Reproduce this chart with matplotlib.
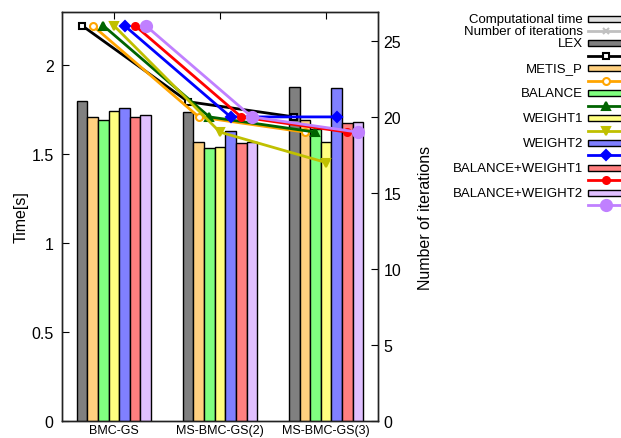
import numpy as np
import matplotlib
matplotlib.use("Agg")
import matplotlib.pyplot as plt
from matplotlib.patches import Rectangle
from matplotlib.lines import Line2D

plt.rcParams['font.family'] = ['Liberation Sans', 'DejaVu Sans']

# solvers on the x axis
solvers = ['BMC-GS', 'MS-BMC-GS(2)', 'MS-BMC-GS(3)']
methods = ['LEX', 'METIS_P', 'BALANCE', 'WEIGHT1', 'WEIGHT2',
           'BALANCE+WEIGHT1', 'BALANCE+WEIGHT2']

# computational time [s], one list per method (BMC-GS, MS(2), MS(3))
time_lex = [1.80, 1.74, 1.88]
time_metis = [1.71, 1.57, 1.69]
time_balance = [1.69, 1.535, 1.64]
time_weight1 = [1.745, 1.54, 1.57]
time_weight2 = [1.76, 1.63, 1.87]
time_bw1 = [1.71, 1.565, 1.677]
time_bw2 = [1.72, 1.57, 1.68]

# number of iterations
iter_lex = [26, 21, 20]
iter_metis = [26, 20, 19]
iter_balance = [26, 20, 19]
iter_weight1 = [26, 19, 17]
iter_weight2 = [26, 20, 20]
iter_bw1 = [26, 20, 19]
iter_bw2 = [26, 20, 19]

times = [time_lex, time_metis, time_balance, time_weight1, time_weight2, time_bw1, time_bw2]
iters = [iter_lex, iter_metis, iter_balance, iter_weight1, iter_weight2, iter_bw1, iter_bw2]

bar_colors = ['#808080', '#ffd080', '#80ff80', '#ffff80', '#8080ff', '#ff8080', '#e0c0ff']
line_colors = ['#000000', '#ffa500', '#006400', '#c0c000', '#0000ff', '#ff0000', '#c080ff']
markers = ['s', 'o', '^', 'v', 'D', 'o', 'o']
msizes = [4, 5, 6, 6, 5, 5, 8]
mfaces = ['white', 'white', None, None, None, None, None]

fig = plt.figure(figsize=(6.21, 4.39), dpi=100)
ax = fig.add_axes([0.0998, 0.0387, 0.5089, 0.9317])
ax2 = ax.twinx()

x = np.arange(len(solvers))
w = 0.1
for i in range(len(methods)):
    ax.bar(x + (i - 3) * w, times[i], width=w, color=bar_colors[i],
           edgecolor='black', linewidth=1, zorder=3)
    mf = mfaces[i] if mfaces[i] else line_colors[i]
    ax2.plot(x + (i - 3) * w, iters[i], color=line_colors[i], lw=2,
             marker=markers[i], ms=msizes[i], mfc=mf, mec=line_colors[i],
             mew=1.5, zorder=4)

ax.set_xlim(-0.49, 2.49)
ax.set_ylim(0, 2.3)
ax2.set_ylim(0, 26.9)
ax.set_xticks(x)
ax.set_xticklabels(solvers, fontsize=9)
ax.set_yticks([0, 0.5, 1, 1.5, 2])
ax.set_yticklabels(['0', '0.5', '1', '1.5', '2'], fontsize=11.5)
ax2.set_yticks([0, 5, 10, 15, 20, 25])
ax2.tick_params(axis='y', labelsize=11.5, direction='in', length=5, pad=4)
ax.tick_params(axis='y', direction='in', length=5, pad=6)
ax.tick_params(axis='x', direction='in', length=5, top=True, pad=2)
ax.set_ylabel('Time[s]', fontsize=11.5, labelpad=2)
ax2.set_ylabel('Number of iterations', fontsize=11.5, labelpad=12)
for a in (ax, ax2):
    for s in a.spines.values():
        s.set_linewidth(1)
        s.set_color('#222222')

# key, drawn in pixel coordinates to the right of the plot
lg = fig.add_axes([0, 0, 1, 1])
lg.set_xlim(0, 621)
lg.set_ylim(439, 0)
lg.axis('off')
row0, step = 19.5, 12.45
tx, bx0, bw, bh = 583, 588, 45, 6
fs = 9.5


def key_box(row, color, label):
    y = row0 + row * step
    lg.add_patch(Rectangle((bx0, y - bh / 2), bw, bh, facecolor=color,
                           edgecolor='black', lw=1))
    if label:
        lg.text(tx, y, label, ha='right', va='center', fontsize=fs)


def key_line(row, color, marker, ms, mfc, label=None):
    y = row0 + row * step
    lg.add_line(Line2D([bx0, bx0 + bw], [y, y], color=color, lw=2))
    lg.add_line(Line2D([605.5], [y], color=color, marker=marker, ms=ms,
                       mfc=mfc, mec=color, mew=1.5))
    if label:
        lg.text(tx, y, label, ha='right', va='center', fontsize=fs)


key_box(0, '#e0e0e0', 'Computational time')
key_line(1, '#c0c0c0', 'x', 4, '#c0c0c0', 'Number of iterations')
for i, m in enumerate(methods):
    key_box(2 + 2 * i, bar_colors[i], m)
    mf = mfaces[i] if mfaces[i] else line_colors[i]
    key_line(3 + 2 * i, line_colors[i], markers[i], msizes[i], mf)

fig.savefig('out.png', dpi=100)
